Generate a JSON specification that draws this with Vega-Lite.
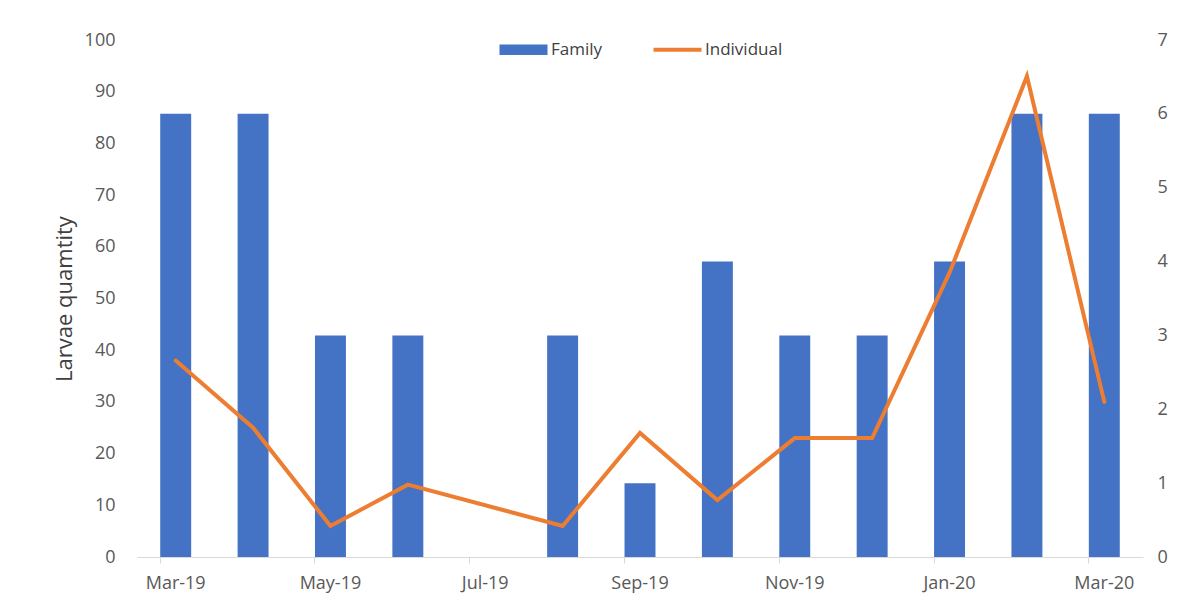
{
  "$schema": "https://vega.github.io/schema/vega-lite/v6.json",
  "autosize": {"type": "none"},
  "padding": {"left": 137, "top": 40, "right": 37, "bottom": 40},
  "width": 1006,
  "height": 517,
  "background": "white",
  "config": {
    "view": {"stroke": null},
    "font": "Open Sans",
    "axis": {"labelFont": "Open Sans", "labelColor": "#595959", "labelFontSize": 18, "grid": false, "titleFont": "Open Sans", "titleColor": "#595959", "titleFontWeight": "normal"}
  },
  "data": {
    "values": [
      {"month": "Mar-19", "Family": 6, "Individual": 38},
      {"month": "Apr-19", "Family": 6, "Individual": 25},
      {"month": "May-19", "Family": 3, "Individual": 6},
      {"month": "Jun-19", "Family": 3, "Individual": 14},
      {"month": "Aug-19", "Family": 3, "Individual": 6},
      {"month": "Sep-19", "Family": 1, "Individual": 24},
      {"month": "Oct-19", "Family": 4, "Individual": 11},
      {"month": "Nov-19", "Family": 3, "Individual": 23},
      {"month": "Dec-19", "Family": 3, "Individual": 23},
      {"month": "Jan-20", "Family": 4, "Individual": 55},
      {"month": "Feb-20", "Family": 6, "Individual": 93},
      {"month": "Mar-20", "Family": 6, "Individual": 30}
    ]
  },
  "layer": [
    {
      "mark": {"type": "bar", "color": "#4472C4"},
      "encoding": {
        "x": {
          "field": "month", "type": "ordinal", "sort": null,
          "scale": {"domain": ["Mar-19","Apr-19","May-19","Jun-19","Jul-19","Aug-19","Sep-19","Oct-19","Nov-19","Dec-19","Jan-20","Feb-20","Mar-20"], "paddingInner": 0.6, "paddingOuter": 0.3},
          "axis": {"orient": "bottom", "title": null, "values": ["Mar-19","May-19","Jul-19","Sep-19","Nov-19","Jan-20","Mar-20"], "labelAngle": 0, "ticks": false, "domain": true, "domainColor": "#d9d9d9", "domainWidth": 1, "labelPadding": 17}
        },
        "y": {
          "field": "Family", "type": "quantitative",
          "scale": {"domain": [0, 7], "nice": false},
          "axis": {"orient": "right", "title": null, "values": [0,1,2,3,4,5,6,7], "domain": false, "ticks": false, "labelPadding": 14}
        },
        "color": {
          "datum": "Family",
          "scale": {"domain": ["Family", "Individual"], "range": ["#4472C4", "#ED7D31"]},
          "legend": {
            "orient": "none", "legendX": 378, "legendY": 1, "direction": "horizontal", "title": null,
            "symbolSize": 2304, "labelOffset": 19, "columnPadding": 42,
            "labelFontSize": 17, "labelFont": "Open Sans", "labelColor": "#404040",
            "symbolType": "M-1,-0.22H1V0.22H-1Z",
            "encode": {
              "symbols": {
                "update": {
                  "shape": {"signal": "datum.value === 'Family' ? 'M-1,-0.22H1V0.22H-1Z' : 'M-1,0H1'"},
                  "fill": {"signal": "datum.value === 'Family' ? '#4472C4' : 'transparent'"},
                  "stroke": {"signal": "datum.value === 'Family' ? 'transparent' : '#ED7D31'"},
                  "strokeWidth": {"signal": "datum.value === 'Family' ? 0 : 4"},
                  "opacity": {"value": 1}
                }
              }
            }
          }
        }
      }
    },
    {
      "mark": {"type": "line", "strokeWidth": 4, "strokeCap": "round", "strokeJoin": "miter", "color": "#ED7D31"},
      "encoding": {
        "x": {
          "field": "month", "type": "ordinal", "sort": null,
          "axis": {"orient": "bottom", "title": null, "values": ["Mar-19","May-19","Jul-19","Sep-19","Nov-19","Jan-20","Mar-20"], "bandPosition": 0, "labels": false, "domain": false, "ticks": true, "tickColor": "#d9d9d9", "tickSize": 6, "tickWidth": 1}
        },
        "y": {
          "field": "Individual", "type": "quantitative",
          "scale": {"domain": [0, 100], "nice": false},
          "axis": {"orient": "left", "title": "Larvae quamtity", "values": [0,10,20,30,40,50,60,70,80,90,100], "domain": false, "ticks": false, "labelPadding": 22, "titleFontSize": 22, "titlePadding": 8, "titleColor": "#404040"}
        },
        "color": {"datum": "Individual"}
      }
    }
  ],
  "resolve": {"scale": {"y": "independent"}, "axis": {"x": "independent"}}
}
